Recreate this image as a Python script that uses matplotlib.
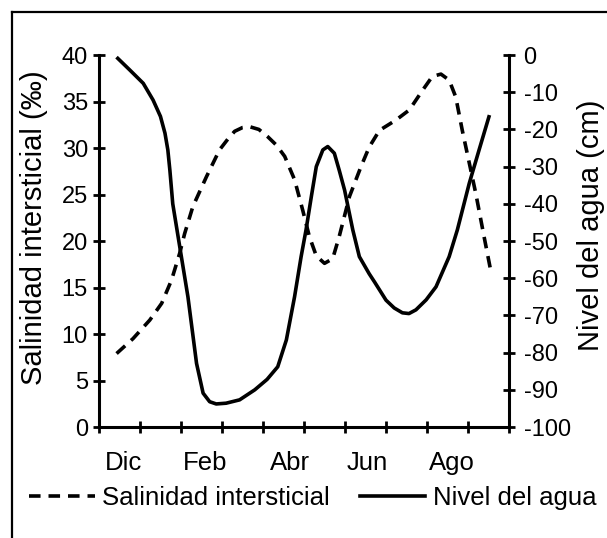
import numpy as np
import matplotlib
matplotlib.use('Agg')
import matplotlib.pyplot as plt
from matplotlib.lines import Line2D

plt.rcParams['font.family'] = ['Liberation Sans', 'DejaVu Sans']
plt.rcParams['axes.unicode_minus'] = False

# time axis: one unit per tick interval, Dec .. Sep
meses = ['Dic', 'Feb', 'Abr', 'Jun', 'Ago']
meses_pos = [0.6, 2.6, 4.65, 6.55, 8.6]

# salinidad intersticial (per mil)
x_sal = [0.43, 0.83, 1.24, 1.53, 1.77, 1.97, 2.09, 2.29, 2.62, 2.94, 3.15, 3.31,
         3.50, 3.67, 3.90, 4.12, 4.33, 4.53, 4.77, 4.97, 5.13, 5.30, 5.50, 5.70, 5.86,
         6.11, 6.39, 6.59, 6.84, 7.24, 7.57, 7.89, 8.13, 8.34, 8.54, 8.70, 8.86,
         9.03, 9.19, 9.39, 9.55]
sal = [7.9, 9.5, 11.5, 13.3, 15.8, 18.7, 20.8, 23.7, 26.9, 29.8, 31.0, 31.8,
       32.2, 32.3, 32.0, 31.2, 30.3, 29.1, 26.6, 23.3, 20.5, 18.4, 17.6, 18.1, 20.5,
       24.8, 28.0, 30.1, 31.9, 33.0, 34.1, 36.2, 37.7, 37.95, 37.3, 35.5, 31.9,
       28.4, 25.1, 20.5, 16.9]

# nivel del agua (cm)
x_niv = [0.46, 0.75, 1.08, 1.32, 1.50, 1.61, 1.68, 1.73, 1.80, 1.93, 2.17, 2.38, 2.54, 2.70, 2.86,
         3.10, 3.43, 3.80, 4.10, 4.36, 4.57, 4.77, 4.93, 5.05, 5.18, 5.30, 5.46, 5.58,
         5.74, 5.86, 5.99, 6.19, 6.35, 6.59, 6.72, 7.00, 7.20, 7.40, 7.56, 7.73, 7.98, 8.22,
         8.54, 8.74, 9.03, 9.27, 9.51]
niv = [-0.9, -4.0, -7.6, -12.1, -16.5, -21.0, -25.5, -31.0, -40.0, -48.8, -65.0, -82.9, -90.9,
       -93.2, -93.8, -93.6, -92.7, -90.0, -87.2, -83.8, -76.6, -65.0, -54.2, -47.0, -38.0,
       -30.0, -25.5, -24.6, -26.4, -31.0, -36.3, -47.0, -54.2, -58.8, -61.0, -65.9, -68.0,
       -69.3, -69.5, -68.5, -65.8, -62.3, -54.2, -47.0, -34.5, -25.5, -16.6]

fig = plt.figure(figsize=(6.07, 5.38), dpi=100)
ax = fig.add_axes([0.163, 0.2063, 0.6756, 0.6914])
ax2 = ax.twinx()

l1, = ax.plot(x_sal, sal, color='k', lw=2.6, ls=(0, (3.2, 2.2)))
l2, = ax2.plot(x_niv, niv, color='k', lw=2.6)

ax.set_xlim(0, 10)
ax.set_ylim(0, 40)
ax2.set_ylim(-100, 0)

for a in (ax, ax2):
    for s in a.spines.values():
        s.set_linewidth(2.2)
    a.spines['top'].set_visible(False)
ax.spines['right'].set_visible(False)
ax2.spines['left'].set_visible(False)
ax2.spines['bottom'].set_visible(False)

ax.set_yticks(np.arange(0, 41, 5))
ax2.set_yticks(np.arange(-100, 1, 10))
ax.set_xticks(np.arange(0, 11, 1))
ax.xaxis.set_major_formatter(plt.NullFormatter())
ax.set_xticks(meses_pos, minor=True)
ax.set_xticklabels(meses, minor=True)

ax.tick_params(axis='y', direction='inout', length=9, width=2, labelsize=17, pad=3.5)
ax.tick_params(axis='x', which='major', direction='inout', length=9, width=2)
ax.tick_params(axis='x', which='minor', length=0, labelsize=18.5, pad=17)
ax2.tick_params(axis='y', direction='inout', length=9, width=2, labelsize=17, pad=6)

ax.set_ylabel('Salinidad intersticial (‰)', fontsize=21)
ax.yaxis.set_label_coords(-0.124, 0.535)
ax2.set_ylabel('Nivel del agua (cm)', fontsize=21)
ax2.yaxis.set_label_coords(1.166, 0.543)

fig.legend([l1, l2], ['Salinidad intersticial', 'Nivel del agua'],
           loc='center left', bbox_to_anchor=(0.0478, 0.0743), ncol=2,
           frameon=False, fontsize=18.5, handlelength=2.55, handletextpad=0.3,
           columnspacing=1.15, borderpad=0, borderaxespad=0)

# outer frame (left and top edges visible)
bx = 11.5 / 607
by = 1 - 11.5 / 538
fig.add_artist(Line2D([bx, bx], [0, by], transform=fig.transFigure, color='k', lw=1.6))
fig.add_artist(Line2D([bx, 1], [by, by], transform=fig.transFigure, color='k', lw=1.6))

fig.savefig('out.png', dpi=100)
